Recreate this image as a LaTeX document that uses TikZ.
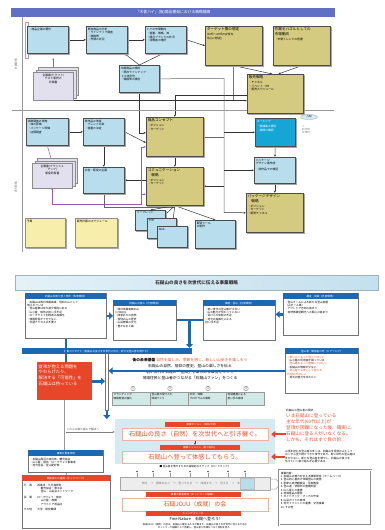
\documentclass[tikz,border=0pt]{standalone}
\usepackage{fontspec}
\setmainfont{Noto Sans CJK JP}
\XeTeXlinebreaklocale "ja"
\XeTeXlinebreakskip=0pt plus 1pt
\usetikzlibrary{arrows.meta,shadows,shapes.geometric,backgrounds,positioning}

\definecolor{skyFill}{RGB}{184,222,238}
\definecolor{oliveFill}{RGB}{212,202,128}
\definecolor{paleFill}{RGB}{248,238,172}
\definecolor{cyanFill}{RGB}{22,166,214}
\definecolor{docFill}{RGB}{226,224,238}
\definecolor{headPurple}{RGB}{96,112,196}
\definecolor{linkPurple}{RGB}{150,90,190}
\definecolor{barBlue}{RGB}{28,104,178}
\definecolor{barRed}{RGB}{232,70,40}
\definecolor{txtRed}{RGB}{230,80,40}
\definecolor{panelBlue}{RGB}{214,234,244}
\definecolor{headSky}{RGB}{196,224,238}
\definecolor{tealFill}{RGB}{208,232,230}

% box contents: width, height, text (top aligned)
\newcommand{\bx}[3]{\parbox[t][\dimexpr#2pt-3pt\relax][t]{\dimexpr#1pt-3pt\relax}{\raggedright#3}}
\newcommand{\boxtitle}[1]{{\fontsize{3.6}{4.6}\selectfont #1\par}\vspace{1.5pt}}

\tikzset{
  plain/.style={draw=black!70, line width=0.6pt, anchor=north west, inner sep=1.5pt,
    font=\fontsize{2.8}{3.5}\selectfont},
  skybox/.style={plain, fill=skyFill},
  olivebox/.style={plain, fill=oliveFill},
  palebox/.style={plain, fill=paleFill, draw=black!45},
  cyanbox/.style={plain, fill=cyanFill, text=white},
  docs/.style={plain, fill=docFill, draw=black!45,
    double copy shadow={shadow xshift=2.5pt, shadow yshift=2.5pt, fill=docFill, draw=black!45}},
  card/.style={draw=black!55, fill=white, line width=0.7pt, anchor=north west, inner sep=1.5pt,
    font=\fontsize{2.7}{3.4}\selectfont},
  cardhead/.style={fill=barBlue, text=white, anchor=north, inner sep=0.5pt, minimum height=6pt,
    minimum width=#1pt, font=\fontsize{2.6}{3}\selectfont},
  redhead/.style={cardhead=#1, fill=barRed},
  tag/.style={fill=barRed, text=white, anchor=north, inner sep=0.5pt, minimum height=5pt,
    minimum width=#1pt, font=\fontsize{2.6}{3}\selectfont},
  goal/.style={fill=white, draw=txtRed!45, line width=0.5pt, anchor=north, minimum width=146pt,
    minimum height=12pt, inner sep=0.5pt, text=txtRed, font=\fontsize{6.3}{7}\selectfont},
  pillar/.style={fill=tealFill, draw=black!40, anchor=north west, inner sep=1.5pt,
    font=\fontsize{2.6}{3.2}\selectfont},
  numdot/.style={circle, draw=black!50, fill=white, inner sep=0.2pt, minimum size=4.5pt,
    font=\fontsize{2.5}{3}\selectfont},
  tickdot/.style={circle, fill=black!70, inner sep=0pt, minimum size=1.6pt},
  link/.style={draw=black!80, line width=0.5pt, -{Latex[length=2.2pt,width=2pt]}},
  wire/.style={draw=black!60, line width=0.5pt},
  rule/.style={draw=black!40, line width=0.6pt},
  plink/.style={draw=linkPurple, line width=0.5pt, {Circle[length=1.6pt]}-},
  parrow/.style={draw=linkPurple, line width=0.5pt, -{Latex[length=2.2pt,width=2pt]}},
  fatline/.style={draw=barBlue, line width=2.6pt},
  fatarrow/.style={draw=barBlue, line width=2.6pt, -{Triangle[length=4pt,width=7pt]}},
  redarrow/.style={draw=barRed, line width=2.4pt, -{Triangle[length=4pt,width=6.5pt]}},
}

\begin{document}
\begin{tikzpicture}[x=1pt,y=-1pt]
  \useasboundingbox (0,0) rectangle (384,530);

  % ================= page 1 =================
  \node[fill=headPurple, minimum width=324pt, minimum height=9pt, anchor=north west, inner sep=0pt,
    text=white, font=\fontsize{3.8}{4}\selectfont] (p1Head) at (11,8) {「木曽ハイ」(仮)商品開発における戦略展開};
  \draw[rule] (22,17) -- (22,252);
  \draw[rule] (12,110) -- (334,110);
  \node[rotate=90, font=\fontsize{2.6}{3}\selectfont, text=black!60] (stageA) at (16,64) {計画段階};
  \node[rotate=90, font=\fontsize{2.6}{3}\selectfont, text=black!60] (stageB) at (16,187) {実行段階};

  \node[plain, draw=linkPurple!70, line width=0.5pt] (planFrame) at (25,22) {\bx{170}{36}{}};

  \node[skybox] (needs)  at (27,26)  {\bx{41}{27}{・商品企画の要件}};
  \node[skybox] (survey) at (86,26)  {\bx{41}{27}{既存商品の分析\\・ラインナップ調査\\・価格帯\\・売場の状況}};
  \node[skybox] (trend)  at (145,26) {\bx{41}{27}{ハイの市場動向\\[1pt]・容量、価格、味\\・競合ブランドの状況\\・消費者の嗜好}};
  \node[olivebox] (target) at (205,26) {\bx{57}{39}{\boxtitle{ターゲット像の想定}(30代〜40代の女性を\\中心に想定)}};
  \node[olivebox] (puzzle) at (273,26) {\bx{57}{39}{\boxtitle{作業をパズルとしての\\市場動向}・市場トレンドの把握}};
  \node[skybox] (nextStep) at (119,65) {\bx{40}{27}{次期商品の検討\\[1pt]・既存ラインナップ\\\ との差別化\\・価格帯の検討}};
  \node[docs] (docsA) at (33,72) {\bx{40}{28}{\centering 企画書(ドラフト)\\テスト販売の\\計画書}};
  \node[olivebox] (sales) at (247,74) {\bx{56}{39}{\boxtitle{販売戦略}・チャネル\\・イベント・PR\\・販売スケジュール}};

  \node[skybox] (fieldSurvey) at (26,118) {\bx{42}{27}{試飲調査の実施\\・味の評価\\・パッケージ評価\\[1pt]・店頭調査}};
  \node[skybox] (userTest) at (83,118) {\bx{41}{27}{試作品の改良\\・ブレンド比率\\・容量の決定}};
  \node[olivebox] (concept) at (146,117) {\bx{57}{39}{\boxtitle{商品コンセプト}・ポジション\\・ターゲット}};
  \node[cyanbox] (naming) at (255,118) {\bx{40}{28}{ネーミング\\[2pt]・候補案の検討\\・商標の確認}};
  \node[skybox] (pkgDraft) at (254,157) {\bx{41}{26}{パッケージ\\デザイン案作成\\[2pt]・試作品での検証}};
  \node[olivebox] (pkgDesign) at (246,193) {\bx{57}{39}{\boxtitle{パッケージデザイン\\\quad 戦略}・ポジション\\・ターゲット\\・販売チャネル}};
  \node[olivebox] (commPlan) at (146,167) {\bx{57}{38}{\boxtitle{コミュニケーション\\\quad 戦略}・ポジション\\・ターゲット}};
  \node[docs] (docsB) at (32,163) {\bx{40}{25}{\centering 企画書(ブラッシュ\\アップ)\\販促計画書}};
  \node[skybox] (copyPlan) at (83,167) {\bx{41}{26}{広告・販促の企画}};
  \node[skybox] (flyerA) at (135,210) {\bx{30}{20}{リーフレット}};
  \node[skybox] (flyerB) at (147,218) {\bx{29}{20}{POP}};
  \node[skybox] (flyerC) at (157,226) {\bx{30}{21}{Web}};
  \node[skybox] (webPlan) at (195,220) {\bx{40}{28}{販促ツール\\の制作}};
  \node[palebox] (memoA) at (25,218) {\bx{40}{29}{予算}};
  \node[palebox] (memoB) at (75,218) {\bx{42}{29}{販売計画のスケジュール}};
  \node[ellipse, draw=black!30, fill=skyFill!60, minimum width=17pt, minimum height=5pt, inner sep=0pt,
    font=\fontsize{2.4}{3}\selectfont] (legend) at (309,117) {凡例};
  \node[anchor=north west, inner sep=0pt, align=left, text=black!45,
    font=\fontsize{2.6}{3.4}\selectfont] (legendNote) at (302,125) {※\\制作物\\成果物};

  \coordinate (frameDot) at (docsA.north |- planFrame.south);
  \coordinate (targetDot) at (233,65);
  \coordinate (trunkTop) at (224,78.5);
  \coordinate (trunkEnd) at (224,212.5);
  \coordinate (purpleRise) at (141,204);

  \begin{scope}[on background layer]
    \draw[link] (needs) -- (survey);
    \draw[link] (survey) -- (trend);
    \draw[link] (trend.east) -- (target.west);
    \draw[link] (nextStep.north) -- ([xshift=-3pt]survey.south east);
    \draw[link] (nextStep.north) -- ([xshift=-3pt]trend.south);
    \draw[link] (target.south) -- ([xshift=-3pt]sales.north);
    \draw[link] (puzzle.south) -- ([xshift=3pt]sales.north);
    \draw[plink] (frameDot) -- (docsA.north);
    \draw[plink] (targetDot) -- (targetDot |- docsA.south);
    \draw[link] (docsA.south) -- (docsA.south -| sales.west);
    \draw[link] ([yshift=-1pt]sales.west) -| (concept.north);
    \draw[wire] (nextStep.east) -- (trunkTop) -- (trunkEnd);
    \draw[link] (trunkEnd) -- (pkgDesign.west);
    \draw[link] (trunkTop |- naming.west) -- (naming.west);
    \draw[link] (trunkTop |- pkgDraft.west) -- (pkgDraft.west);
    \draw[wire] (concept.east) -- (trunkTop |- concept.east);
    \draw[link] (trunkTop |- commPlan.east) -- (commPlan.east);
    \draw[link] (naming) -- (pkgDraft);
    \draw[link] (pkgDraft) -- (pkgDesign);
    \draw[link] (concept) -- (commPlan);
    \draw[link] (fieldSurvey) -- (userTest);
    \draw[plink] (fieldSurvey.south) -- (docsB.north);
    \draw[link] (userTest.east) -- ([yshift=-6pt]concept.west);
    \draw[link] (nextStep.south) |- ([yshift=4pt]concept.west);
    \draw[link] (userTest.south) -- (copyPlan.north);
    \draw[link] (commPlan.west |- copyPlan.east) -- (copyPlan.east);
    \draw[draw=linkPurple, line width=0.5pt, {Circle[length=1.6pt]}-{Latex[length=2.2pt,width=2pt]}]
      (docsB.south) |- (purpleRise) |- ([yshift=-10pt]concept.west);
    \draw[parrow] (purpleRise) |- ([yshift=-8pt]commPlan.west);
    \draw[wire] (copyPlan.south) |- ([yshift=-2pt]commPlan.south);
    \draw[link] (commPlan.south) -- (flyerA.north);
    \draw[link] (commPlan.south) -- (flyerB.north);
    \draw[link] (commPlan.south) -- (flyerC.north);
    \draw[link] (commPlan.south) -- (webPlan.north);
    % box shadows
    \foreach \n in {needs,survey,trend,target,puzzle,nextStep,sales,fieldSurvey,userTest,concept,
                    naming,pkgDraft,pkgDesign,commPlan,copyPlan,flyerA,flyerB,flyerC,webPlan,memoA,memoB}
      \fill[black!35] ([shift={(1.2pt,-1.2pt)}]\n.south west) rectangle ([shift={(1.2pt,-1.2pt)}]\n.north east);
  \end{scope}

  % ================= page 2 =================
  \node[anchor=north west, minimum width=363pt, minimum height=15pt, inner sep=0pt,
    left color=headSky!45, right color=headSky, draw=headSky!80!black,
    font=\fontsize{4.6}{5}\selectfont\bfseries, text=black!80] (p2Head) at (15,275) {石鎚山の良さを次世代に伝える事業戦略};

  \node[card] (envBox) at (25,293) {\bx{81}{45}{\vspace*{6pt}・石鎚山は西日本最高峰、信仰の山として\\\ 知られている\\・登山者数は年々減少傾向にある\\・山小屋・宿坊の担い手不足\\・ロープウェイ利用者の高齢化\\・情報発信が十分でない\\・交通アクセスの不便さ}};
  \node[cardhead=81] (envHead) at (envBox.north) {石鎚山を取り巻く現状（外部環境）};
  \node[card] (strengthBox) at (113,300) {\bx{63}{40}{\vspace*{6pt}・西日本最高峰の山\\\ (1,982m)\\・四季折々の自然\\・信仰の山の歴史\\・山岳修験の文化\\・豊かな水と森}};
  \node[cardhead=63] (strengthHead) at (strengthBox.north) {石鎚山の強み（内部環境）};
  \node[card] (issueBox) at (203,300) {\bx{72}{40}{\vspace*{6pt}・若い世代の登山者が少ない\\・山の魅力が伝わっていない\\・受け入れ体制の不足\\・地元の高齢化による\\\ 担い手不足}};
  \node[cardhead=72] (issueHead) at (issueBox.north) {課題・弱み（内部環境）};
  \node[card] (marketBox) at (283,293) {\bx{75}{42}{\vspace*{6pt}・登山ブームによる新たな登山者層\\\ （山ガール等）\\・アウトドア志向の高まり\\・自然体験型観光への関心の高まり}};
  \node[cardhead=75] (marketHead) at (marketBox.north) {機会・脅威（外部環境）};

  \node[card] (conceptBox) at (105,348) {\bx{170}{62}{}};
  \node[cardhead=170] (conceptHead) at (conceptBox.north) {事業コンセプト（石鎚山の良さを次世代に伝え、新たな登山者を増やす）};
  \node[anchor=north, align=center, inner sep=0pt, font=\fontsize{3.8}{6}\selectfont] (conceptText) at (190,358)
    {{\bfseries 街の未来基盤}\ {\color{txtRed}自然を楽しみ、季節を感じ、新しい山歩きを楽しもう}\\
     石鎚山の自然、信仰の歴史、登山の楽しさを伝え\\
     若い世代が気軽に「登山」を楽しめる環境をつくり\\
     地域住民と登山者がつながる「石鎚山ファン」をつくる};
  \foreach \i/\x in {1/133,2/170,3/208,4/246}
    \node[numdot] (num\i) at (\x,388.5) {\i};
  \foreach \i/\x/\t in {1/112/ブランディング\\情報発信の強化, 2/150/登山者の受け入れ\\体制づくり,
                        3/188/交流・体験\\プログラムの開発, 4/226/地域連携による\\担い手の育成}
    \node[pillar] (pillar\i) at (\x,392) {\bx{38}{13}{\t}};

  \node[card] (voiceBox) at (285,348) {\bx{73}{45}{\vspace*{6pt}{\color{txtRed}・若い人にもっと登ってほしい}\\・山小屋の利用者が減っている\\{\color{txtRed}・登山道をもっと整備してほしい}\\・石鎚山の情報が少ない\\{\color{txtRed}・初心者でも安心して登れる}\\{\color{txtRed}\ 仕組みがほしい}\\・地元の魅力を伝えたい}};
  \node[cardhead=73] (voiceHead) at (voiceBox.north) {登山者・関係者の声（ヒアリング）};

  \node[fill=barRed, text=white, anchor=north west, inner sep=1.5pt,
    font=\fontsize{4.3}{5.6}\selectfont] (problemBox) at (37,362)
    {\bx{55}{38}{\vspace*{1pt}従来が抱える問題を\\やわらげたり、\\解決する「可能性」を\\石鎚山は持っている}};

  \node[fill=panelBlue, anchor=north west, minimum width=160pt, minimum height=45pt, inner sep=0pt] (goalPanel) at (115,419) {};
  \node[tag=75] (goalAtag) at (202,422) {事業ビジョン（目指す姿）};
  \node[goal] (goalA) at (195,428) {石鎚山の良さ（自然）を次世代へと引き継ぐ。};
  \node[tag=80] (goalBtag) at (200,445) {事業ミッション（取り組み）};
  \node[goal] (goalB) at (195,450.5) {石鎚山へ登って体感してもらう。};

  \node[anchor=north west, inner sep=0.5pt, font=\fontsize{2.7}{3.2}\selectfont, text=black!70] (noteLeft) at (66,428)
    {これらの取り組みで解決へ};

  \node[card] (supportBox) at (28,450) {\bx{75}{22}{\vspace*{6pt}・石鎚山周辺の自治体、観光協会\\・山小屋・宿坊・ロープウェイ事業者\\・地元住民、登山愛好家}};
  \node[cardhead=75] (supportHead) at (supportBox.north) {事業の推進体制};
  \node[card] (partnerBox) at (22,475) {\bx{88}{53}{\vspace*{7pt}行　政　　西条市・久万高原町\\\hspace*{17pt}観光協会・商工会\\\hspace*{17pt}登山・山岳会ネットワーク\\[2pt]民　間　　ロープウェイ・宿坊\\\hspace*{17pt}山小屋・旅館\\\hspace*{17pt}アウトドア用品店\\[2pt]その他　　大学・研究機関}};
  \node[redhead=88] (partnerHead) at (partnerBox.north) {関係者との連携（ネットワーク）};

  \node[anchor=north west, inner sep=0pt, align=left, font=\fontsize{4.6}{6.1}\selectfont, text=txtRed] (voiceText) at (286,409)
    {{\fontsize{2.7}{3.5}\selectfont\color{black} 石鎚山の登山者の現状}\\いま石鎚山に登っている\\主な年代(60代以上)が\\登頂が困難になった後、確実に、\\石鎚山に登る人がいなくなる。\\しかも、それはすぐ目の前…};
  \node[anchor=north west, inner sep=0pt, align=left, font=\fontsize{2.7}{3.4}\selectfont] (dataText) at (285,450)
    {山頂を訪れる登山者の多くは、石鎚山を信仰の山として\\古くから登り続けてきた世代であり、若い世代の登山者は\\まだ少ない。新たな登山者を増やし、石鎚山の良さを\\伝えていく取り組みが必要である。};

  \node[anchor=north, inner sep=0pt, font=\fontsize{2.6}{3}\selectfont] (stepCaption) at (195,465.5)
    {■ 登山者を増やすための段階的なステップ（ロードマップ）};
  \node[anchor=north west, minimum width=150pt, minimum height=13pt, inner sep=0pt, fill=black!7, draw=black!35,
    font=\fontsize{2.8}{3}\selectfont, text=black!55] (stepStrip) at (120,477)
    {知る　→　興味をもつ　→　登ってみる　→　体感する　→　伝える　→　また登る};
  \node[anchor=north west, minimum width=14pt, minimum height=11pt, inner sep=0pt, fill=skyFill, draw=black!25] (stepMark) at (240,478) {};
  \foreach \i/\x in {1/137,2/153,3/170,4/190,5/208,6/228,7/245} {
    \node[tickdot] (tick\i) at (\x,471.5) {};
    \draw[rule, line width=0.4pt] (tick\i) -- (tick\i |- stepStrip.north);
  }
  \draw[black!35, line width=0.5pt] (271,479) -- (276,479) -- (280,484) -- (276,489) -- (271,489);

  \node[card, draw=black!45, double=white, double distance=0.7pt] (listBox) at (279,470)
    {\bx{92}{55}{事業内容：\\1.\ 石鎚山の魅力を伝える情報発信（ホームページ）\\2.\ 登山初心者向け体験登山の実施\\3.\ 季節の自然観察会・写真教室\\4.\ 登山道・休憩所の整備支援\\5.\ 山小屋との連携\\6.\ 地域産品の開発\\7.\ ガイドブック・マップの作成\\8.\ 山岳ガイドの育成\\9.\ 地元イベントとの連携・交流事業\\10.\ その他}};

  \node[tag=95] (jojuTag) at (193,492) {事業の推進母体（ネットワーク組織）};
  \node[goal, minimum height=13pt, font=\fontsize{6}{7}\selectfont] (jojuBox) at (195,497.5) {石鎚JOJU（成就）の会};
  \node[tag=95] (sloganTag) at (193,511) {キャッチフレーズ};
  \node[anchor=north, inner sep=0pt, font=\fontsize{4}{5}\selectfont] (slogan) at (195,517) {Fine Nature　石鎚へ登ろう!};
  \node[anchor=north, inner sep=0pt, align=center, font=\fontsize{2.4}{3}\selectfont] (footNote) at (195,523.5)
    {石鎚JOJU（成就）の会は、石鎚山に関わる人々が集まり、石鎚山の良さを次世代に伝えるための\\ネットワーク組織として活動し、登山者と地域をつなぐ役割を担う。};

  % connectors of page 2
  \draw[fatarrow] (envBox.east) -- (envBox.east -| strengthBox.west);
  \draw[fatarrow] (marketBox.west) -- (marketBox.west -| issueBox.east);
  \coordinate (tJoin) at (189.5,320);
  \draw[fatline] (strengthBox.east |- tJoin) -- (issueBox.west |- tJoin);
  \draw[fatarrow] (tJoin) -- (tJoin |- conceptBox.north);
  \draw[fatarrow] (voiceBox.west) -- (voiceBox.west -| conceptBox.east);
  \draw[fatline] (envBox.south) -- (envBox.south |- problemBox.north);
  \draw[fatarrow] (problemBox.east) -- (problemBox.east -| conceptBox.west);
  \draw[fatarrow] (conceptBox.south) -- (conceptBox.south |- goalPanel.north);
  \draw[rule] (problemBox.south) -- (problemBox.south |- supportHead.north);
  \draw[rule] (supportBox.south) -- (supportBox.south |- partnerHead.north);
  \draw[link, draw=black!50] (noteLeft.south west) -- (noteLeft.south west -| goalPanel.west);
  \draw[link] (goalA.south) -- (goalA.south |- goalBtag.north);
  \draw[redarrow] (voiceText.west |- goalA.east) -- ([xshift=3pt]goalA.east);
  \draw[redarrow] (dataText.west |- goalB.east) -- ([xshift=3pt]goalB.east);
\end{tikzpicture}
\end{document}
